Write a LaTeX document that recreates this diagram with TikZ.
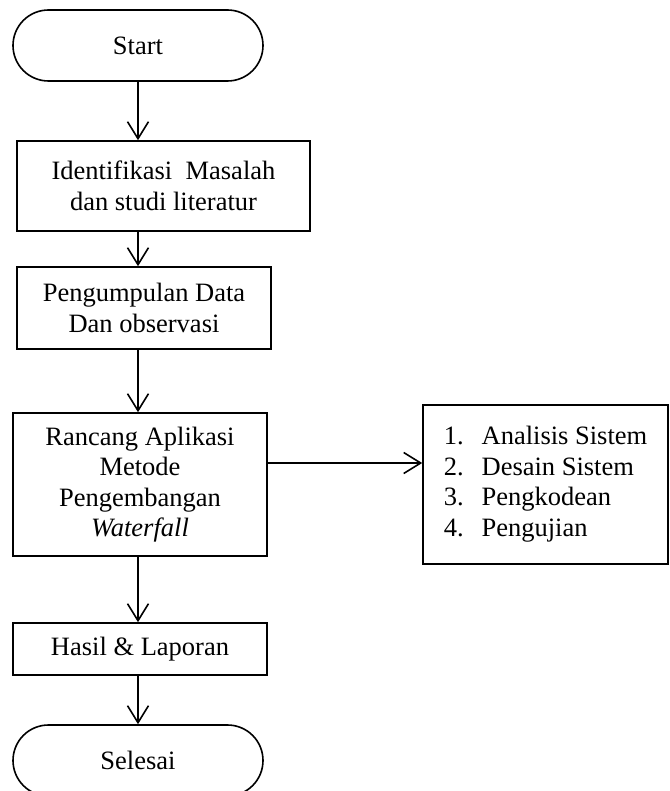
\documentclass[tikz,border=0pt]{standalone}
\usepackage{fontspec}
\setmainfont{Liberation Serif}
\usetikzlibrary{arrows.meta,shapes.misc}
\tikzset{
  base/.style={draw, line width=1.6pt, inner sep=0pt, align=center,
    font=\fontsize{26.5}{30.5}\selectfont},
  term/.style={base, rounded rectangle},
  procbox/.style={base, rectangle},
  arr/.style={line width=1.6pt, -{Straight Barb[length=17pt,width=21pt,line width=1.6pt]}}
}
\begin{document}
\begin{tikzpicture}[x=1pt,y=-1pt]
\clip (0,0) rectangle (669,791);
\node[term, minimum width=250pt, minimum height=71pt] (start) at (138,45.5) {Start};
\node[procbox, minimum width=293pt, minimum height=90pt] (ident) at (163.5,186) {Identifikasi\ \ Masalah\\dan studi literatur};
\node[procbox, minimum width=254pt, minimum height=82pt] (kumpul) at (144,308) {Pengumpulan Data\\Dan observasi};
\node[procbox, minimum width=254pt, minimum height=143pt] (rancang) at (140,484.5) {Rancang Aplikasi\\Metode\\Pengembangan\\\textit{Waterfall}};
\node[procbox, minimum width=245pt, minimum height=159pt] (list) at (545.5,484.5) {\begin{tabular}{@{}l@{\hspace{18pt}}l@{}}1. & Analisis Sistem\\2. & Desain Sistem\\3. & Pengkodean\\4. & Pengujian\end{tabular}};
\node[procbox, minimum width=254pt, minimum height=52pt] (hasil) at (140,649) {Hasil \& Laporan};
\node[term, minimum width=250pt, minimum height=71pt] (selesai) at (138,760.5) {Selesai};
\coordinate (col) at (138,0);
\draw[arr] (start.south) -- (start.south |- ident.north);
\draw[arr] (ident.south -| col) -- (kumpul.north -| col);
\draw[arr] (kumpul.south -| col) -- (rancang.north -| col);
\draw[arr] (rancang.south -| col) -- (hasil.north -| col);
\draw[arr] (hasil.south -| col) -- (selesai.north -| col);
\draw[arr] ([yshift=21.5pt]rancang.east) -- ([yshift=21.5pt]rancang.east -| list.west);
\end{tikzpicture}
\end{document}
